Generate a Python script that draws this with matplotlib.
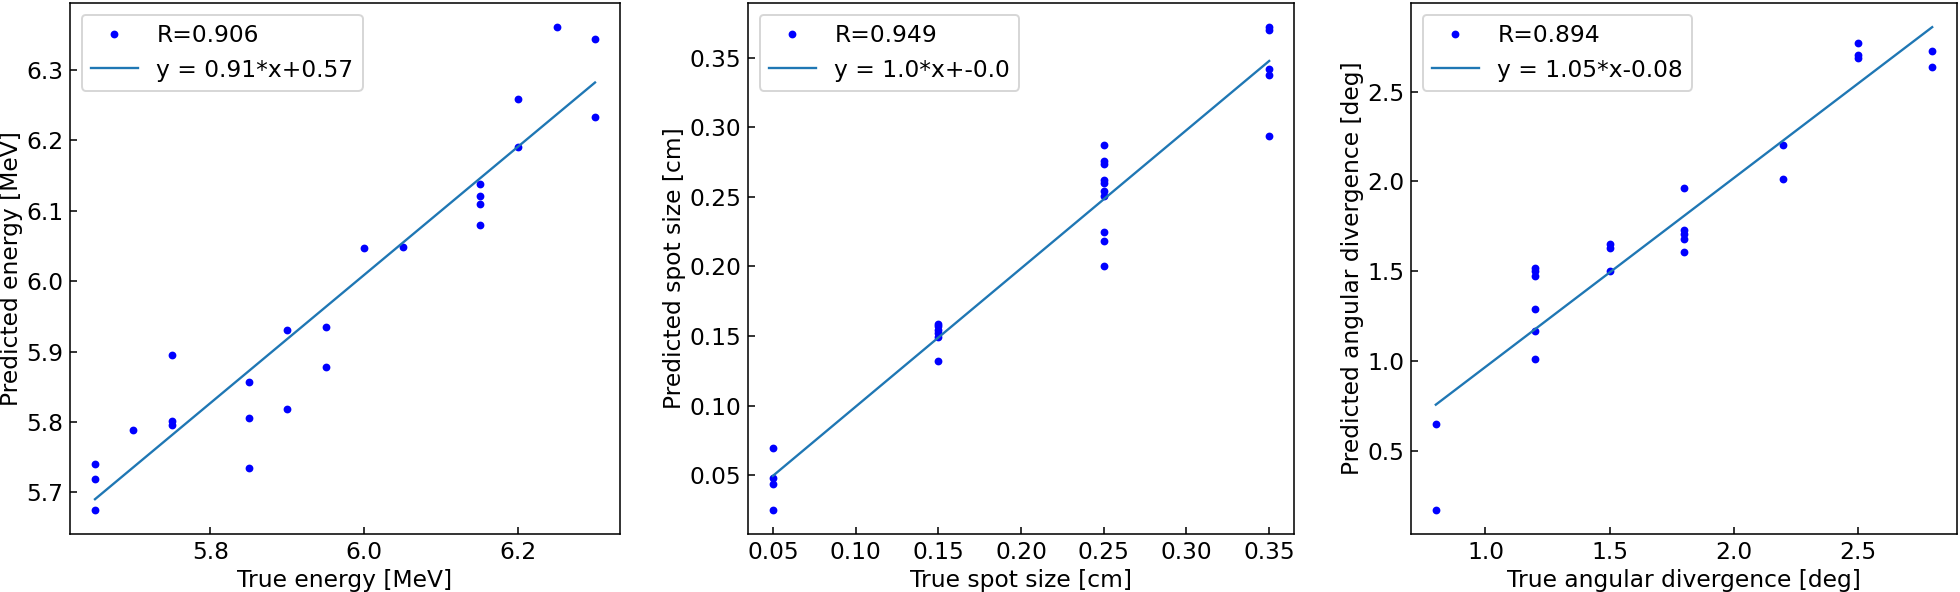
import numpy as np
import matplotlib
matplotlib.use("Agg")
import matplotlib.pyplot as plt

plt.rcParams['font.size'] = 12

# energia
x_energy = [5.65, 5.65, 5.65, 5.70, 5.75, 5.75, 5.75, 5.85, 5.85, 5.85, 5.90, 5.90,
            5.95, 5.95, 6.00, 6.05, 6.15, 6.15, 6.15, 6.15, 6.20, 6.20, 6.25, 6.30, 6.30]
y_energy = [5.740, 5.719, 5.675, 5.789, 5.895, 5.801, 5.795, 5.857, 5.806, 5.734, 5.931, 5.818,
            5.935, 5.878, 6.047, 6.048, 6.138, 6.121, 6.110, 6.080, 6.259, 6.191, 6.361, 6.344, 6.233]

# spot size
x_spot = [0.05] * 4 + [0.15] * 6 + [0.25] * 10 + [0.35] * 5
y_spot = [0.0692, 0.0478, 0.0438, 0.0251,
          0.159, 0.157, 0.154, 0.152, 0.149, 0.1324,
          0.287, 0.2755, 0.2733, 0.262, 0.260, 0.2546, 0.2505, 0.225, 0.2186, 0.2004,
          0.372, 0.370, 0.3419, 0.3375, 0.2939]

# angular divergence
x_div = [0.8] * 2 + [1.2] * 6 + [1.5] * 3 + [1.8] * 5 + [2.2] * 2 + [2.5] * 3 + [2.8] * 2
y_div = [0.649, 0.172,
         1.517, 1.502, 1.471, 1.291, 1.167, 1.013,
         1.649, 1.630, 1.500,
         1.964, 1.732, 1.709, 1.682, 1.605,
         2.205, 2.013,
         2.770, 2.703, 2.684,
         2.726, 2.638]

# parametry dopasowania i etykiety
fit_slope = [0.911, 0.994, 1.0505]
fit_intercept = [0.543, -0.0002, -0.083]
r_labels = ['R=0.906', 'R=0.949', 'R=0.894']
fit_labels = ['y = 0.91*x+0.57', 'y = 1.0*x+-0.0', 'y = 1.05*x-0.08']
x_labels = ['True energy [MeV]', 'True spot size [cm]', 'True angular divergence [deg]']
y_labels = ['Predicted energy [MeV]', 'Predicted spot size [cm]', 'Predicted angular divergence [deg]']

data = [(x_energy, y_energy), (x_spot, y_spot), (x_div, y_div)]

fig = plt.figure(figsize=(14, 592 / 140), dpi=140)
lefts = [70, 748, 1411]
rights = [620, 1294, 1957]
bottom = 1 - 534 / 592
height = (534 - 3) / 592

for i, (xs, ys) in enumerate(data):
    ax = fig.add_axes([lefts[i] / 1960, bottom, (rights[i] - lefts[i]) / 1960, height])
    xs = np.array(xs)
    ax.plot(xs, ys, '.', color='blue', label=r_labels[i])
    xl = np.array([xs.min(), xs.max()])
    ax.plot(xl, fit_slope[i] * xl + fit_intercept[i], color='tab:blue', lw=1.2,
            label=fit_labels[i])
    ax.set_xlabel(x_labels[i], labelpad=2.5)
    ax.set_ylabel(y_labels[i], labelpad=1.5)
    ax.tick_params(direction='in')
    ax.legend(loc='upper left')

fig.savefig('out.png', dpi=140)
